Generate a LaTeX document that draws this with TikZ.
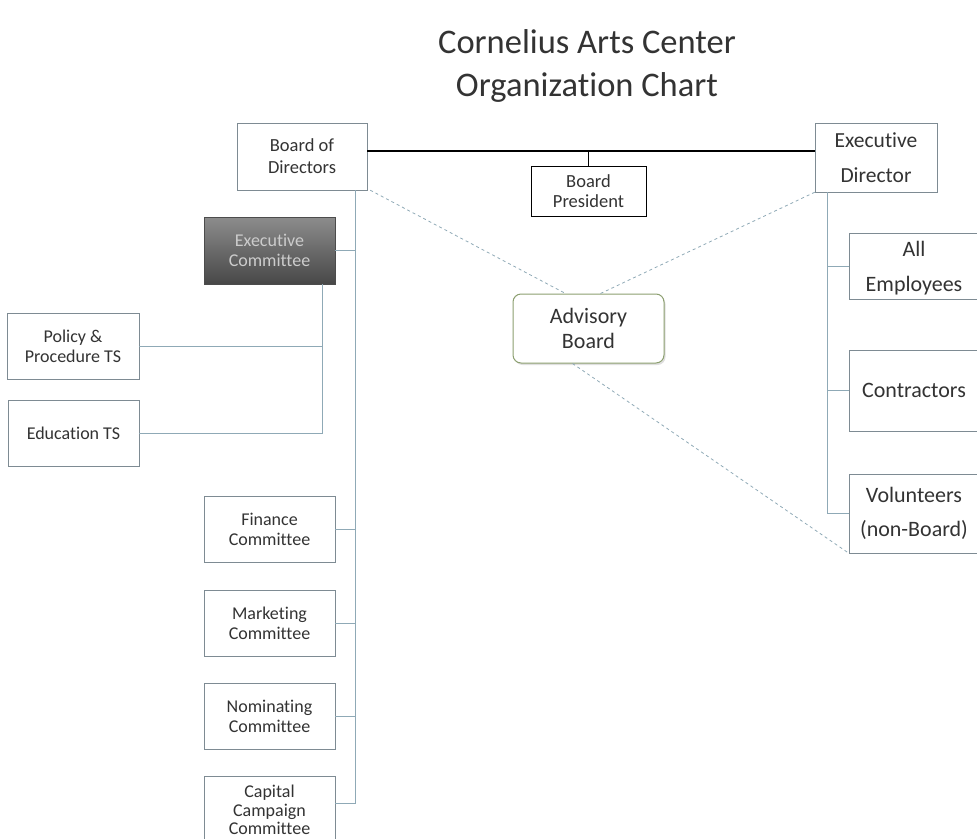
\documentclass[tikz,border=0pt]{standalone}
\usepackage{fontspec}
\setmainfont{Carlito}[Ligatures=CommonOff]
\usepackage{xcolor}
\usepackage{tikz}
\usetikzlibrary{shadows}
\definecolor{linkblue}{HTML}{8FA9B6}
\definecolor{boxedge}{HTML}{7E8B93}
\definecolor{advedge}{HTML}{8C9F70}

\begin{document}
\begin{tikzpicture}[x=1pt,y=-1pt,
    unit/.style={draw=boxedge,fill=white,align=center,inner sep=0pt,text=black!80,
        minimum width=131pt,minimum height=66pt,font=\fontsize{18}{20}\selectfont},
    bigunit/.style={unit,minimum width=130pt,font=\fontsize{22}{35}\selectfont},
    link/.style={draw=linkblue,line width=1pt},
    dotlink/.style={draw=linkblue,dashed,line width=0.8pt}]
    \useasboundingbox (0,0) rectangle (977,838);
    % title
    \node[align=center,font=\fontsize{34.5}{43}\selectfont,text=black!80] (title) at (587,66)
        {Cornelius Arts Center\\Organization Chart};
    % board side
    \node[unit,minimum width=130pt,minimum height=67pt,font=\fontsize{18.5}{22}\selectfont] (bod) at (302,156.5) {Board of\\Directors};
    \node[unit,draw=black,minimum width=115pt,minimum height=50pt,font=\fontsize{18.5}{20}\selectfont] (bp) at (588.5,191) {Board\\President};
    \node[unit,draw=black!70,minimum height=67pt,text=black!20,
        top color=black!45,bottom color=black!72] (exec) at (269.5,250.5) {Executive\\Committee};
    \node[unit,minimum width=132pt] (policy) at (73,346) {Policy \&\\Procedure TS};
    \node[unit] (educ) at (73.5,433) {Education TS};
    \node[unit] (fin) at (269.5,529) {Finance\\Committee};
    \node[unit] (mkt) at (269.5,623) {Marketing\\Committee};
    \node[unit] (nom) at (269.5,716) {Nominating\\Committee};
    \node[unit,minimum height=68pt,font=\fontsize{18}{18.5}\selectfont] (cap) at (269.5,810) {Capital\\Campaign\\Committee};
    % staff side
    \node[unit,minimum width=122pt,minimum height=69pt,font=\fontsize{21.5}{35}\selectfont] (ed) at (876,157.5) {Executive\\Director};
    \node[bigunit] (emp) at (914,266.5) {\rule{0pt}{19pt}All\\Employees};
    \node[bigunit,minimum height=81pt] (con) at (914,390.5) {Contractors};
    \node[bigunit,minimum height=79pt,font=\fontsize{22}{34}\selectfont] (vol) at (914,513.5) {Volunteers\\(non-Board)};
    \node[unit,draw=advedge,line width=1pt,rounded corners=8pt,minimum width=151pt,minimum height=69pt,
        font=\fontsize{22}{25}\selectfont,
        drop shadow={opacity=0.25,shadow xshift=1.5pt,shadow yshift=-2pt}] (adv) at (588.5,328.5) {Advisory\\Board};
    % lines
    \draw[black,line width=1.4pt] ([yshift=5.5pt]bod.east) -- ([yshift=6.5pt]ed.west);
    \draw[black,line width=1.4pt] (bp.north) -- ++(0,-15);
    \draw[link] ([xshift=-12pt]bod.south east) |- (exec.east);
    \draw[link] ([xshift=-12pt]bod.south east) |- (fin.east);
    \draw[link] ([xshift=-12pt]bod.south east) |- (mkt.east);
    \draw[link] ([xshift=-12pt]bod.south east) |- (nom.east);
    \draw[link] ([xshift=-12pt]bod.south east) |- ([yshift=7pt]cap.east);
    \draw[link] ([xshift=-13pt]exec.south east) |- (policy.east);
    \draw[link] ([xshift=-13pt]exec.south east) |- (educ.east);
    \draw[link] ([xshift=13pt]ed.south west) |- (emp.west);
    \draw[link] ([xshift=13pt]ed.south west) |- (con.west);
    \draw[link] ([xshift=13pt]ed.south west) |- (vol.west);
    \draw[dotlink] ([xshift=3pt]bod.south east) -- ([xshift=-23pt]adv.north);
    \draw[dotlink] (ed.south west) -- ([xshift=12pt]adv.north);
    \draw[dotlink] ([xshift=-16pt]adv.south) -- (vol.south west);
\end{tikzpicture}
\end{document}
